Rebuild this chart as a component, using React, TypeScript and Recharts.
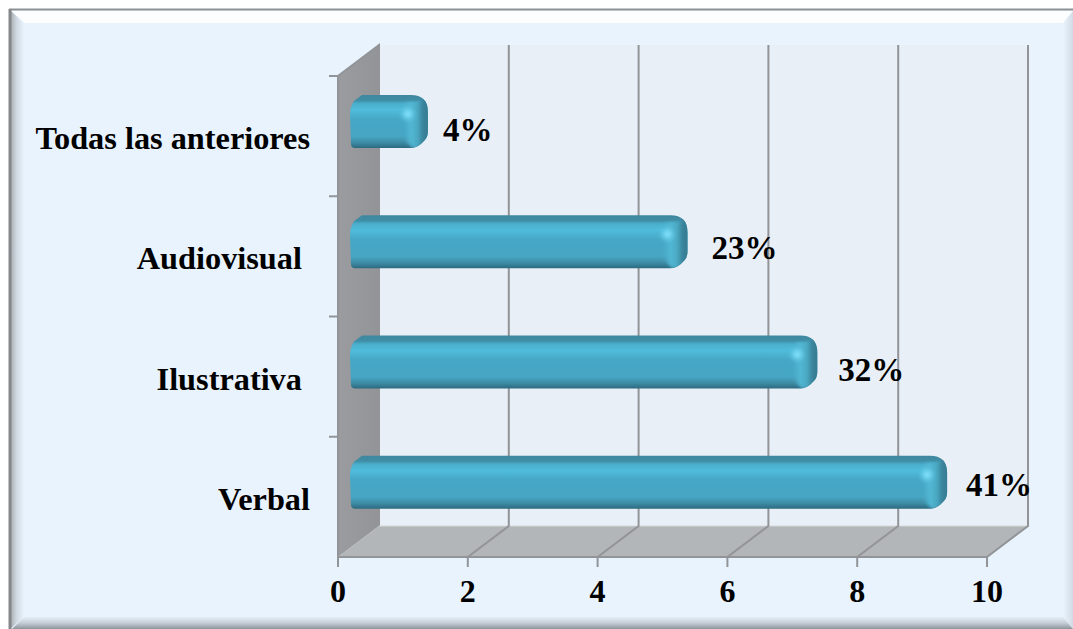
import { Bar, BarChart, LabelList, ReferenceLine, XAxis, YAxis, usePlotArea } from 'recharts';

const categories = ['Verbal', 'Ilustrativa ', 'Audiovisual ', 'Todas las anteriores'];
const counts = [9, 7, 5, 1];
const percentLabels = ['41%', '32%', '23%', '4%'];
const xTicks = [0, 2, 4, 6, 8, 10];

const data = categories.map((name, i) => ({ name, count: counts[i], label: percentLabels[i] }));

const WIDTH = 1073;
const HEIGHT = 629;
const DEPTH_X = 41;
const DEPTH_Y = -31;
const FONT = '"Liberation Serif", "Times New Roman", serif';
const GRID = '#929497';

// hand placed data labels: [dx from bar end, dy from bar top]
const LABEL_NUDGE: Record<string, [number, number]> = {
  '41%': [44, 25],
  '32%': [46, 30],
  '23%': [49, 29],
  '4%': [40, 31],
};

function Frame() {
  return (
    <g>
      <rect x={0} y={0} width={WIDTH} height={HEIGHT} fill="#ffffff" />
      <rect x={10} y={10} width={WIDTH - 10} height={HEIGHT - 10} fill="#e8f3fd" />
      <polygon points={`11,11 ${WIDTH},11 ${WIDTH},23 24,23`} fill="#fbfdff" />
      <polygon points={`10,10 24,23 24,${HEIGHT - 12} 10,${HEIGHT}`} fill="url(#frameLeft)" />
      <polygon points={`${WIDTH - 10},23 ${WIDTH},11 ${WIDTH},${HEIGHT} ${WIDTH - 10},${HEIGHT - 12}`} fill="url(#frameRight)" />
      <polygon points={`24,${HEIGHT - 12} ${WIDTH - 10},${HEIGHT - 12} ${WIDTH},${HEIGHT} 12,${HEIGHT}`} fill="url(#frameBottom)" />
      <line x1={9} y1={9.5} x2={WIDTH} y2={9.5} stroke="#8e9194" strokeWidth={2} />
      <line x1={10} y1={9} x2={10} y2={HEIGHT} stroke="#85888b" strokeWidth={3} />
    </g>
  );
}

// back wall, side wall and floor of the 3D box, plus the category tick marks
function Room() {
  const plot = usePlotArea();
  if (!plot) return null;
  const { x, y, width, height } = plot;
  const right = x + width;
  const bottom = y + height;
  const bx = x + DEPTH_X;
  const ty = y + DEPTH_Y;
  const fy = bottom + DEPTH_Y;
  return (
    <g>
      <rect x={bx} y={ty} width={width} height={height} fill="#e8eff6" />
      <polygon points={`${x},${y} ${bx},${ty} ${bx},${fy} ${x},${bottom}`} fill="url(#sideWall)" />
      <polygon points={`${x},${bottom} ${bx},${fy} ${right + DEPTH_X},${fy} ${right},${bottom}`} fill="#b2b6b8" />
      <polyline points={`${x},${bottom} ${x},${y} ${bx},${ty} ${bx},${fy}`} fill="none" stroke={GRID} strokeWidth={2} />
      <line x1={bx} y1={fy} x2={right + DEPTH_X} y2={fy} stroke="#d5d8da" strokeWidth={1} />
      {categories.map((_, i) => {
        const tickY = y + (i * height) / categories.length;
        return <line key={i} x1={x - 9} x2={x} y1={tickY} y2={tickY} stroke={GRID} strokeWidth={2} />;
      })}
    </g>
  );
}

// one vertical gridline up the back wall and its diagonal across the floor
function DepthGridline(props: any) {
  const { x1, y1, x2, y2 } = props;
  const low = Math.max(y1, y2);
  const high = Math.min(y1, y2);
  const baseX = Math.min(x1, x2);
  return (
    <polyline
      points={`${baseX},${low} ${baseX + DEPTH_X},${low + DEPTH_Y} ${baseX + DEPTH_X},${high + DEPTH_Y}`}
      fill="none"
      stroke={GRID}
      strokeWidth={2}
    />
  );
}

function CategoryTick(props: any) {
  const { x, y, payload } = props;
  return (
    <text
      x={x - 20}
      y={y + 13}
      textAnchor="end"
      fontFamily={FONT}
      fontWeight="bold"
      fontSize={32.3}
      fill="#000"
      style={{ whiteSpace: 'pre' }}
    >
      {payload.value}
    </text>
  );
}

// bevelled bar, shifted into the depth of the box
function BevelBar(props: any) {
  const { x, y, width, height, index } = props;
  const left = x + 12;
  const right = x + width + 25;
  const top = y - 15;
  const bottom = top + height;
  const outline = `M${left + 1},${bottom - 4}
    Q${left + 1},${bottom} ${left + 5},${bottom}
    L${right - 17},${bottom}
    Q${right - 12},${bottom} ${right - 7},${bottom - 4}
    L${right - 3},${bottom - 8}
    Q${right},${bottom - 11} ${right},${bottom - 17}
    L${right},${top + 17}
    Q${right},${top} ${right - 17},${top}
    L${left + 12},${top}
    L${left + 4},${top + 6}
    Q${left},${top + 12} ${left},${top + 20}
    Z`;
  const clipId = `barClip${index}`;
  return (
    <g>
      <clipPath id={clipId}>
        <path d={outline} />
      </clipPath>
      <path d={outline} fill="url(#barFace)" />
      <g clipPath={`url(#${clipId})`}>
        <g filter="url(#capSoften)">
          <path
            d={`M${right - 24},${top + 7} L${right - 11},${top + 7} L${right + 4},${top}
              L${right + 4},${bottom} L${right - 15},${bottom} L${right - 24},${bottom - 8} Z`}
            fill="url(#barCap)"
          />
          <circle cx={right - 20} cy={top + 19} r={9} fill="url(#barGlint)" />
        </g>
      </g>
    </g>
  );
}

function PercentLabel(props: any) {
  const { x, y, width, value } = props;
  const [dx, dy] = LABEL_NUDGE[value];
  return (
    <text x={x + width + dx} y={y + dy} fontFamily={FONT} fontWeight="bold" fontSize={33} fill="#000">
      {value}
    </text>
  );
}

export default function App() {
  return (
    <div style={{ position: 'absolute', left: 0, top: 0 }}>
      <BarChart
        width={WIDTH}
        height={HEIGHT}
        data={data}
        layout="vertical"
        margin={{ top: 76, right: 86, bottom: 0, left: 0 }}
        barSize={53}
      >
        <defs>
          <linearGradient id="frameLeft" x1="0" x2="1" y1="0" y2="0">
            <stop offset="0" stopColor="#a3a8ad" />
            <stop offset="0.45" stopColor="#cfd8e0" />
            <stop offset="1" stopColor="#e8f3fd" />
          </linearGradient>
          <linearGradient id="frameRight" x1="0" x2="1" y1="0" y2="0">
            <stop offset="0" stopColor="#e8f3fd" />
            <stop offset="1" stopColor="#d3dce5" />
          </linearGradient>
          <linearGradient id="frameBottom" x1="0" x2="0" y1="0" y2="1">
            <stop offset="0" stopColor="#e4eff8" />
            <stop offset="0.5" stopColor="#c5ced6" />
            <stop offset="1" stopColor="#8d949b" />
          </linearGradient>
          <linearGradient id="sideWall" x1="0" x2="1" y1="0" y2="0">
            <stop offset="0" stopColor="#9a9c9f" />
            <stop offset="1" stopColor="#929497" />
          </linearGradient>
          <linearGradient id="barFace" x1="0" x2="0" y1="0" y2="1">
            <stop offset="0" stopColor="#3f889f" />
            <stop offset="0.1" stopColor="#3f8da5" />
            <stop offset="0.16" stopColor="#4aaecb" />
            <stop offset="0.28" stopColor="#50bcdc" />
            <stop offset="0.45" stopColor="#46a8c6" />
            <stop offset="0.78" stopColor="#46a6c3" />
            <stop offset="0.9" stopColor="#3d8ba4" />
            <stop offset="1" stopColor="#2c6a80" />
          </linearGradient>
          <linearGradient id="barCap" x1="0" x2="1" y1="0" y2="0">
            <stop offset="0" stopColor="#52b8d4" stopOpacity="0" />
            <stop offset="0.25" stopColor="#52b8d4" />
            <stop offset="0.5" stopColor="#4aa8c2" />
            <stop offset="0.66" stopColor="#3a849c" />
            <stop offset="1" stopColor="#33768c" />
          </linearGradient>
          <radialGradient id="barGlint">
            <stop offset="0" stopColor="#8ce8ff" />
            <stop offset="0.4" stopColor="#72d6f3" stopOpacity="0.8" />
            <stop offset="1" stopColor="#5cc4e2" stopOpacity="0" />
          </radialGradient>
          <filter id="capSoften" x="-30%" y="-30%" width="160%" height="160%">
            <feGaussianBlur stdDeviation="1.6" />
          </filter>
        </defs>
        <Frame />
        <Room />
        {xTicks.slice(1).map((t) => (
          <ReferenceLine key={t} x={t} shape={DepthGridline} zIndex={100} />
        ))}
        <XAxis
          type="number"
          domain={[0, 10]}
          ticks={xTicks}
          height={72}
          interval={0}
          tickSize={10}
          tickMargin={12}
          axisLine={{ stroke: GRID, strokeWidth: 2 }}
          tickLine={{ stroke: GRID, strokeWidth: 2 }}
          tick={{ fontFamily: FONT, fontWeight: 'bold', fontSize: 32, fill: '#000' }}
        />
        <YAxis
          type="category"
          dataKey="name"
          reversed
          width={338}
          axisLine={false}
          tickLine={false}
          tick={CategoryTick}
          interval={0}
        />
        <Bar dataKey="count" shape={BevelBar} isAnimationActive={false}>
          <LabelList dataKey="label" content={PercentLabel} />
        </Bar>
      </BarChart>
    </div>
  );
}
